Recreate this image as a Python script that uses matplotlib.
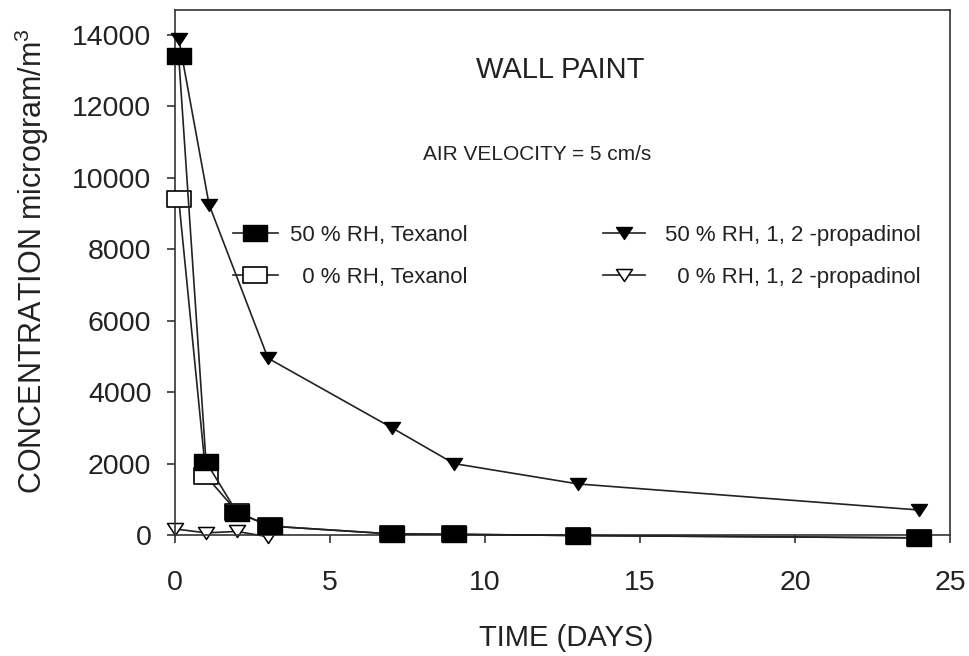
import matplotlib
matplotlib.use("Agg")
import matplotlib.pyplot as plt
from matplotlib.path import Path

plt.rcParams['font.family'] = ['Liberation Sans', 'DejaVu Sans']
plt.rcParams['mathtext.default'] = 'regular'

# --- data ---
t_tex50 = [0.12, 1.0, 2.0, 3.05, 7.0, 9.0, 13.0, 24.0]
c_tex50 = [13400, 2050, 630, 250, 30, 20, -15, -80]

t_tex0 = [0.12, 1.0, 2.0, 3.05, 7.0, 9.0, 13.0, 24.0]
c_tex0 = [9400, 1650, 650, 250, 30, 20, -15, -80]

t_pro50 = [0.12, 1.1, 3.0, 7.0, 9.0, 13.0, 24.0]
c_pro50 = [13900, 9250, 4950, 3000, 2000, 1430, 700]

t_pro0 = [0.0, 1.0, 2.0, 3.0]
c_pro0 = [170, 60, 100, -50]

labels = ["50 % RH, Texanol", "  0 % RH, Texanol",
          "50 % RH, 1, 2 -propadinol", "  0 % RH, 1, 2 -propadinol"]

x_ticks = [0, 5, 10, 15, 20, 25]
y_ticks = [0, 2000, 4000, 6000, 8000, 10000, 12000, 14000]

rect = Path([(-1.5, -1), (1.5, -1), (1.5, 1), (-1.5, 1), (-1.5, -1)],
            [Path.MOVETO, Path.LINETO, Path.LINETO, Path.LINETO, Path.CLOSEPOLY])
tri = Path([(-1, 0.75), (1, 0.75), (0, -0.75), (-1, 0.75)],
           [Path.MOVETO, Path.LINETO, Path.LINETO, Path.CLOSEPOLY])

fig = plt.figure(figsize=(9.7, 6.56), dpi=100)
ax = fig.add_axes([175/970, 1-535/656, 775/970, 525/656])

lc = '#222222'
l1, = ax.plot(t_tex50, c_tex50, color=lc, lw=1.2, marker=rect, ms=18,
              mfc='black', mec='black', clip_on=False, zorder=4, label=labels[0])
l2, = ax.plot(t_tex0, c_tex0, color=lc, lw=1.2, marker=rect, ms=18,
              mfc='white', mec='black', mew=1.2, clip_on=False, zorder=3, label=labels[1])
l3, = ax.plot(t_pro50, c_pro50, color=lc, lw=1.2, marker=tri, ms=11.5,
              mfc='black', mec='black', clip_on=False, zorder=3, label=labels[2])
l4, = ax.plot(t_pro0, c_pro0, color=lc, lw=1.2, marker=tri, ms=11.5,
              mfc='white', mec='black', mew=1.1, clip_on=False, zorder=2, label=labels[3])

ax.set_xlim(0, 25)
ax.set_ylim(0, 14700)
ax.set_xticks(x_ticks)
ax.set_yticks(y_ticks)
ax.tick_params(axis='both', direction='out', length=6, width=1.1,
               colors='#222222', labelsize=20.5)
ax.tick_params(axis='y', pad=11)
ax.tick_params(axis='x', pad=19)
for s in ax.spines.values():
    s.set_color('#333333')
    s.set_linewidth(1.2)

ax.set_xlabel("TIME (DAYS)", fontsize=21, color='#222222')
ax.xaxis.set_label_coords(0.505, -0.17)
ax.set_ylabel("CONCENTRATION microgram/m$^{3}$", fontsize=22, color='#222222')
ax.yaxis.set_label_coords(-0.16, 0.522)

ax.text(0.497, 0.886, "WALL PAINT", transform=ax.transAxes, fontsize=21,
        ha='center', va='center', color='#222222')
ax.text(0.467, 0.724, "AIR VELOCITY = 5 cm/s", transform=ax.transAxes, fontsize=15,
        ha='center', va='center', color='#222222')

leg1 = ax.legend(handles=[l1, l2], loc='upper left', bbox_to_anchor=(0.075, 0.59),
                 frameon=False, fontsize=16, numpoints=1, handlelength=2.0,
                 handletextpad=0.55, labelspacing=0.92, borderpad=0, borderaxespad=0)
ax.add_artist(leg1)
leg2 = ax.legend(handles=[l3, l4], loc='upper left', bbox_to_anchor=(0.552, 0.59),
                 frameon=False, fontsize=16, numpoints=1, handlelength=1.9,
                 handletextpad=0.9, labelspacing=0.92, borderpad=0, borderaxespad=0)
for t in leg1.get_texts() + leg2.get_texts():
    t.set_color('#222222')

fig.savefig("out.png", dpi=100, facecolor='white')
